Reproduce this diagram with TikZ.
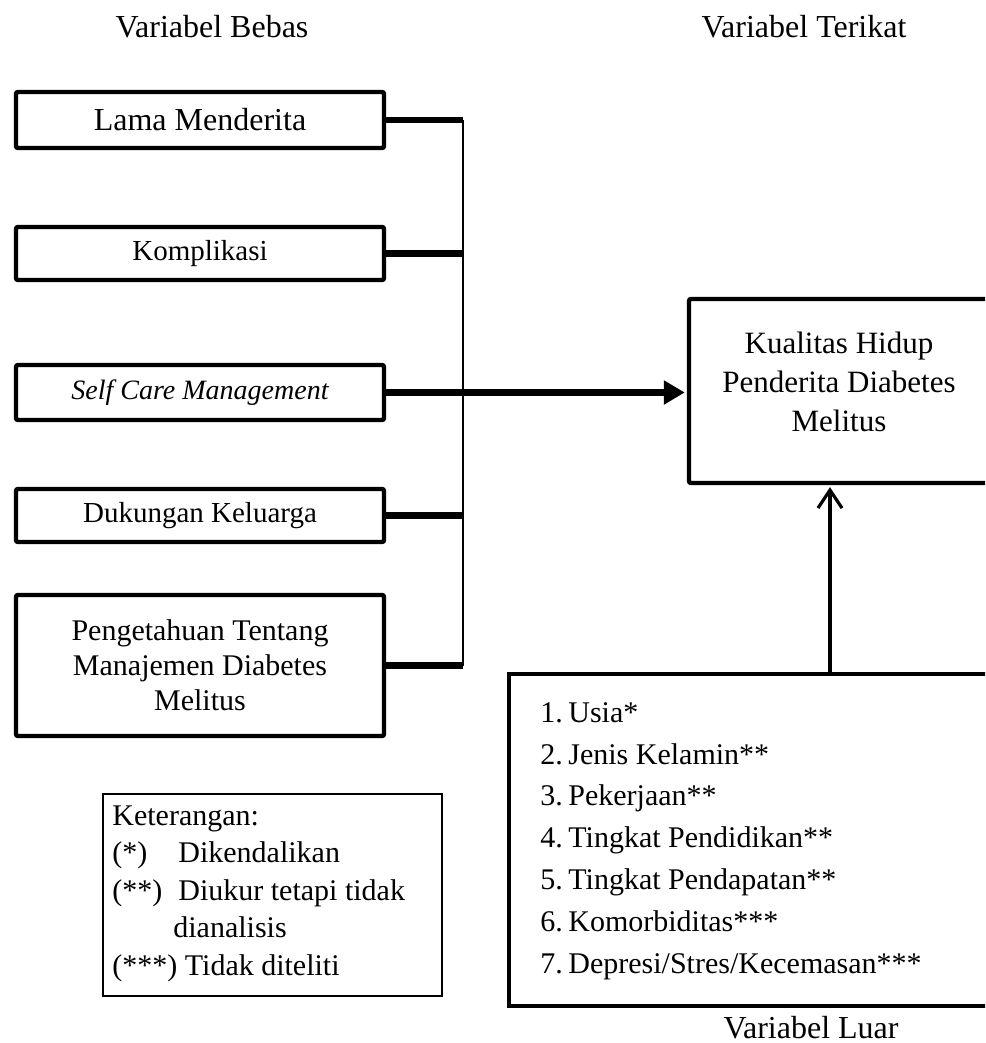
\documentclass[tikz,border=0pt]{standalone}
\usepackage{fontspec}
\setmainfont{Liberation Serif}
\usetikzlibrary{positioning, arrows.meta}

\tikzset{
  varbox/.style={draw, line width=2.2pt, rounded corners=1pt, minimum width=184pt,
    minimum height=27.5pt, inner sep=0pt, align=center},
  link/.style={line width=3.2pt},
  busline/.style={line width=0.8pt},
}

\begin{document}
\begin{tikzpicture}[x=0.5pt, y=-0.5pt]
\useasboundingbox (0,0) rectangle (985,1043);
\clip (0,0) rectangle (985,1043);

% judul kolom
\node[font=\fontsize{16}{19}\selectfont] (tbebas) at (212,27) {Variabel Bebas};
\node[font=\fontsize{16}{19}\selectfont] (tterikat) at (804,27) {Variabel Terikat};

% variabel bebas
\node[varbox, minimum height=28pt, font=\fontsize{16}{19}\selectfont] (b1) at (200,120) {Lama Menderita};
\node[varbox, minimum height=26.5pt, font=\fontsize{14.5}{17}\selectfont] (b2) at (200,253.5) {Komplikasi};
\node[varbox, font=\fontsize{14}{17}\selectfont\itshape] (b3) at (200,392.5) {Self Care Management};
\node[varbox, minimum height=26.5pt, font=\fontsize{14.5}{17}\selectfont] (b4) at (200,515.5) {Dukungan Keluarga};
\node[varbox, minimum height=70.5pt, font=\fontsize{15}{17.5}\selectfont] (b5) at (200,665.5) {Pengetahuan Tentang\\Manajemen Diabetes\\Melitus};

% variabel terikat
\node[varbox, minimum width=150.5pt, minimum height=92pt] (kh) at (839.5,391) {};
\node[align=center, font=\fontsize{15.5}{19.5}\selectfont] (khtext) at (839,381.5) {Kualitas Hidup\\Penderita Diabetes\\Melitus};

% variabel luar
\node[varbox, rounded corners=0pt, minimum width=245.5pt, minimum height=166pt] (vl) at (754.5,840) {};
\node[anchor=north west, inner sep=0pt, align=left, font=\fontsize{15}{20.9}\selectfont] (vltext) at (540,702) {%
  \makebox[14pt][l]{1.}Usia*\\
  \makebox[14pt][l]{2.}Jenis Kelamin**\\
  \makebox[14pt][l]{3.}Pekerjaan**\\
  \makebox[14pt][l]{4.}Tingkat Pendidikan**\\
  \makebox[14pt][l]{5.}Tingkat Pendapatan**\\
  \makebox[14pt][l]{6.}Komorbiditas***\\
  \makebox[14pt][l]{7.}Depresi/Stres/Kecemasan***};
\node[font=\fontsize{16}{19}\selectfont] (tluar) at (811,1028) {Variabel Luar};

% keterangan
\node[draw, line width=0.75pt, minimum width=169.5pt, minimum height=101pt] (ket) at (272.5,895) {};
\node[anchor=north west, inner sep=0pt, align=left, font=\fontsize{15}{18.75}\selectfont] (kettext) at (112,805) {%
  Keterangan:\\
  \makebox[33pt][l]{(*)}Dikendalikan\\
  \makebox[33pt][l]{(**)}Diukur tetapi tidak\\
  \hspace*{30.5pt}dianalisis\\
  (***) Tidak diteliti};

% penghubung
\coordinate (bus) at (463,0);
\coordinate (up) at (830,0);
\draw[busline] (b1.east -| bus) -- (b5.east -| bus);
\draw[link] (b1.east) -- (b1.east -| bus);
\draw[link] (b2.east) -- (b2.east -| bus);
\draw[link] (b4.east) -- (b4.east -| bus);
\draw[link] (b5.east) -- (b5.east -| bus);
\draw[link, -{Triangle[length=10.5pt, width=11.5pt]}, shorten >=1pt] (b3.east) -- (b3.east -| kh.west);
\draw[line width=1.6pt, -{Straight Barb[length=9pt, width=12pt]}, shorten >=1pt] (vl.north -| up) -- (kh.south -| up);
\end{tikzpicture}
\end{document}
